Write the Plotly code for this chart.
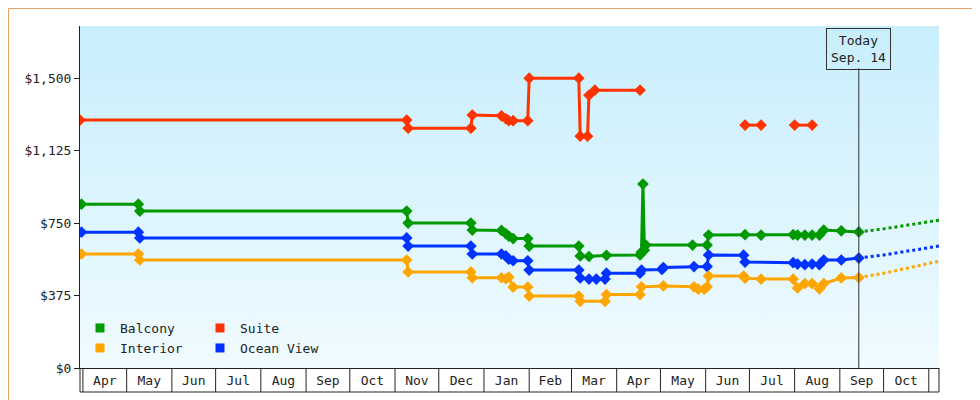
import plotly.graph_objects as go
import pandas as pd

# ---- data ----
suite_x = ["2023-03-30","2023-11-09","2023-11-10","2023-12-23","2023-12-24","2024-01-13","2024-01-16","2024-01-18","2024-01-21","2024-01-31","2024-02-01","2024-03-06","2024-03-07","2024-03-12","2024-03-13","2024-03-17","2024-04-17",None,"2024-06-28","2024-07-09",None,"2024-08-01","2024-08-13"]
suite_y = [1283,1283,1241,1241,1309,1305,1290,1280,1280,1280,1500,1500,1200,1200,1412,1438,1438,None,1257,1257,None,1257,1257]

balc_x = ["2023-03-31","2023-05-09","2023-05-10","2023-11-09","2023-11-10","2023-12-23","2023-12-24","2024-01-13","2024-01-16","2024-01-18","2024-01-21","2024-01-31","2024-02-01","2024-03-06","2024-03-07","2024-03-13","2024-03-25","2024-04-17","2024-04-18","2024-04-19","2024-04-20","2024-04-21","2024-05-23","2024-06-02","2024-06-03","2024-06-28","2024-07-09","2024-07-31","2024-08-03","2024-08-08","2024-08-13","2024-08-18","2024-08-21","2024-09-02","2024-09-14"]
balc_y = [848,848,812,812,750,750,714,712,695,683,670,670,631,631,580,577,583,585,600,952,610,636,636,636,688,690,688,690,688,688,688,688,714,710,704]

ocean_x = ["2023-03-31","2023-05-09","2023-05-10","2023-11-09","2023-11-10","2023-12-23","2023-12-24","2024-01-13","2024-01-16","2024-01-18","2024-01-21","2024-01-31","2024-02-01","2024-03-06","2024-03-07","2024-03-13","2024-03-18","2024-03-24","2024-03-25","2024-04-17","2024-04-18","2024-05-02","2024-05-03","2024-05-24","2024-06-02","2024-06-03","2024-06-27","2024-06-28","2024-07-31","2024-08-03","2024-08-08","2024-08-13","2024-08-18","2024-08-21","2024-09-02","2024-09-14"]
ocean_y = [703,703,673,673,631,631,590,590,580,563,555,555,507,507,466,460,460,460,491,491,507,510,520,525,525,585,584,548,545,538,535,538,535,559,559,569]

int_x = ["2023-03-31","2023-05-09","2023-05-10","2023-11-09","2023-11-10","2023-12-23","2023-12-24","2024-01-13","2024-01-16","2024-01-18","2024-01-21","2024-01-31","2024-02-01","2024-03-06","2024-03-07","2024-03-24","2024-03-25","2024-04-17","2024-04-18","2024-05-03","2024-05-24","2024-05-27","2024-05-31","2024-06-02","2024-06-03","2024-06-27","2024-06-28","2024-07-09","2024-07-31","2024-08-03","2024-08-08","2024-08-13","2024-08-18","2024-08-21","2024-09-02","2024-09-14"]
int_y = [590,590,559,559,497,497,467,467,462,470,419,419,372,372,345,345,380,380,420,425,420,408,408,420,476,476,465,460,460,414,437,437,410,437,466,468]

fc_x = ["2024-09-14","2024-10-01","2024-11-08"]
fc_balc = [704,720,765]
fc_ocean = [569,585,631]
fc_int = [468,490,553]

today = "2024-09-14"
x_range = ["2023-03-30","2024-11-08"]
y_range = [0,1770]
y_ticks = [0,375,750,1125,1500]
y_ticktext = ["$0","$375","$750","$1,125","$1,500"]

C_BALC, C_SUITE, C_INT, C_OCEAN = "#009900", "#ff3300", "#ffa500", "#0033ff"

fig = go.Figure()
fig.add_trace(go.Scatter(x=[x_range[0], x_range[1], x_range[1], x_range[0], x_range[0]],
                         y=[y_range[0], y_range[0], y_range[1], y_range[1], y_range[0]],
                         fill="toself", mode="none", hoverinfo="skip", showlegend=False,
                         fillgradient=dict(type="vertical", colorscale=[[0, "#f0fbff"], [1, "#c8eefc"]])))

def series(x, y, c):
    fig.add_trace(go.Scatter(x=x, y=y, mode="lines+markers", showlegend=False,
                             line=dict(color=c, width=3),
                             marker=dict(symbol="diamond", size=9, color=c)))

series(suite_x, suite_y, C_SUITE)
series(balc_x, balc_y, C_BALC)
series(ocean_x, ocean_y, C_OCEAN)
series(int_x, int_y, C_INT)
for yy, c in [(fc_balc, C_BALC), (fc_ocean, C_OCEAN), (fc_int, C_INT)]:
    fig.add_trace(go.Scatter(x=fc_x, y=yy, mode="lines", showlegend=False,
                             line=dict(color=c, width=3, dash="dot")))

for name, c, lg in [("Balcony", C_BALC, "legend"), ("Suite", C_SUITE, "legend"),
                    ("Interior", C_INT, "legend2"), ("Ocean View", C_OCEAN, "legend2")]:
    fig.add_trace(go.Scatter(x=[None], y=[None], mode="markers", name=name, legend=lg,
                             marker=dict(symbol="square", size=9, color=c)))

W, H = 980, 400
ml, mr, mt, mb = 72, 49, 18, 40
pw, ph = W - ml - mr, H - mt - mb
box = 24 / ph

leg = dict(orientation="h", x=0.0, xanchor="left", yanchor="middle", bgcolor="rgba(0,0,0,0)",
           font=dict(size=13, color="#222"), itemwidth=30, entrywidth=75)

month_starts = pd.date_range("2023-04-01", "2024-11-01", freq="MS")
shapes = [dict(type="line", xref="x", yref="paper", x0=d, x1=d, y0=0, y1=-box,
               line=dict(color="#222", width=1)) for d in month_starts]
shapes += [
    dict(type="line", xref="x", yref="y", x0=today, x1=today, y0=0, y1=1552,
         line=dict(color="#333", width=1)),
    dict(type="line", xref="paper", yref="paper", x0=0, x1=1, y0=-box, y1=-box,
         line=dict(color="#222", width=1)),
    dict(type="line", xref="paper", yref="paper", x0=1, x1=1, y0=0, y1=-box,
         line=dict(color="#222", width=1)),
    dict(type="line", xref="paper", yref="paper", x0=0, x1=0, y0=0, y1=-box,
         line=dict(color="#222", width=1)),
    dict(type="rect", xref="paper", yref="paper",
         x0=-(ml - 0.5) / pw, x1=1 + (mr - 0.5) / pw,
         y0=-(mb - 0.5) / ph, y1=1 + (mt - 0.5) / ph,
         line=dict(color="#e8a264", width=1)),
]

fig.update_layout(
    width=W, height=H, margin=dict(l=ml, r=mr, t=mt, b=mb, autoexpand=False),
    paper_bgcolor="white", plot_bgcolor="rgba(0,0,0,0)",
    font=dict(family="DejaVu Sans Mono", size=13, color="#222"),
    legend=dict(leg, y=40 / ph),
    legend2=dict(leg, y=20 / ph),
    xaxis=dict(type="date", range=x_range, showgrid=False, zeroline=False, automargin=False,
               dtick="M1", tick0="2023-03-01", tickformat="%b", ticklabelmode="period",
               ticks="", ticklen=0, showline=True, linecolor="#222",
               linewidth=1, tickfont=dict(size=13)),
    yaxis=dict(range=y_range, tickvals=y_ticks, ticktext=y_ticktext, automargin=False,
               showgrid=False, zeroline=False, ticks="outside", ticklen=5, tickcolor="#222",
               showline=True, linecolor="#222", linewidth=1),
    shapes=shapes,
    annotations=[dict(x=today, xref="x", y=1, yref="paper", yanchor="top", yshift=-2,
                      text="Today<br>Sep. 14", showarrow=False, bordercolor="#333", borderwidth=1,
                      borderpad=4, font=dict(size=13, color="#222"))],
)
fig.write_html("out.html")
